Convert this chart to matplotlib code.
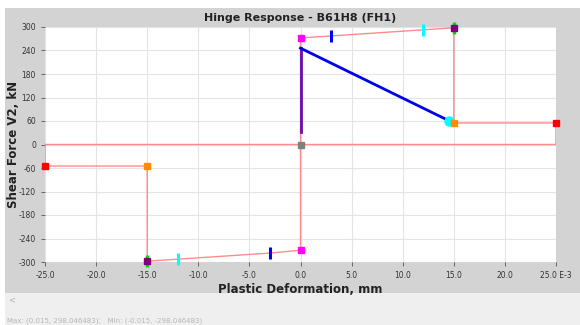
import matplotlib.pyplot as plt
from matplotlib.patches import Rectangle

# backbone curve (deformation in E-3 mm, force in kN)
bb_x = [-25, -25, -15, -15, -12, -3, 0, 0, 3, 12, 15, 15, 25, 25, -25]
bb_y = [0, -55, -55, -298, -292.8, -277.2, -270, 272, 277.2, 292.8, 298, 55, 55, 0, 0]

# hinge response path
resp_x = [0, 0, 14.5]
resp_y = [32, 246, 61]

# point markers on the backbone
sq_x = [-25, 25, -15, 15, -15, 15, 0, 0, 0]
sq_y = [-55, 55, -55, 55, -298, 298, -270, 272, 0]
sq_c = ['#ff0000', '#ff0000', '#ff8c00', '#ff8c00', '#800080', '#800080',
        '#ff00ff', '#ff00ff', '#808080']

# acceptance criteria ticks (IO, LS)
tick_x = [-3, 3, -12, 12]
tick_y = [-277.2, 277.2, -292.8, 292.8]
tick_c = ['#0000ff', '#0000ff', '#00ffff', '#00ffff']

xticks = [-25, -20, -15, -10, -5, 0, 5, 10, 15, 20, 25]
yticks = [-300, -240, -180, -120, -60, 0, 60, 120, 180, 240, 300]

fig = plt.figure(figsize=(5.8, 3.25), dpi=100)
fig.patch.set_facecolor('white')
fig.add_artist(Rectangle((5 / 580, 32 / 325), 575 / 580, 285 / 325,
                         transform=fig.transFigure, facecolor='#d3d3d3',
                         edgecolor='none', zorder=0))
fig.add_artist(Rectangle((5 / 580, 0), 575 / 580, 32 / 325,
                         transform=fig.transFigure, facecolor='#efefef',
                         edgecolor='none', zorder=0))

ax = fig.add_axes([45 / 580, 63 / 325, 511 / 580, 235 / 325])
ax.set_facecolor('white')
ax.set_xlim(-25, 25)
ax.set_ylim(-300, 300)
ax.set_xticks(xticks)
ax.set_yticks(yticks)
ax.set_xticklabels(['%.1f' % v for v in xticks[:-1]] + ['25.0 E-3'])
ax.set_yticklabels([str(v) for v in yticks])
ax.tick_params(labelsize=5.5, colors='#555555', labelcolor='#333333',
               length=3, width=0.6)
ax.grid(True, color='#e4e4e4', linewidth=0.8)
ax.set_axisbelow(True)
for s in ax.spines.values():
    s.set_visible(False)

ax.plot(bb_x, bb_y, color='#ff7070', linewidth=1.0, alpha=0.8, zorder=2)
ax.plot(resp_x[:2], resp_y[:2], color='#6a0dad', linewidth=2.0, zorder=3)
ax.plot(resp_x[1:], resp_y[1:], color='#0000ee', linewidth=2.0, zorder=3)
ax.plot(resp_x[-1], resp_y[-1], 'o', color='#00ffff', markersize=6.5,
        zorder=4, clip_on=False)

# green behind the purple squares
ax.plot([-15, 15], [-298, 298], '|', color='#00dd00', markersize=8,
        markeredgewidth=2.5, zorder=4, clip_on=False)
for x, y, c in zip(sq_x, sq_y, sq_c):
    ax.plot(x, y, 's', color=c, markersize=4.5, zorder=5, clip_on=False)
for x, y, c in zip(tick_x, tick_y, tick_c):
    ax.plot(x, y, '|', color=c, markersize=8, markeredgewidth=2.2, zorder=5,
            clip_on=False)

ax.set_title('Hinge Response - B61H8 (FH1)', fontsize=8, fontweight='bold',
             color='#222222', pad=4)
ax.set_xlabel('Plastic Deformation, mm', fontsize=8.5, fontweight='bold',
              color='#222222', labelpad=2)
ax.set_ylabel('Shear Force V2, kN', fontsize=8.5, fontweight='bold',
              color='#222222')
ax.yaxis.set_label_coords(-25 / 511, 0.5)

fig.text(8 / 580, 1 - 300 / 325, '<', fontsize=6, color='#b0b0b0', va='center')
fig.text(7 / 580, 1 - 321 / 325,
         'Max: (0.015, 298.046483);   Min: (-0.015, -298.046483)',
         fontsize=5, color='#b8b8b8', va='center')

fig.savefig('out.png', dpi=100)
